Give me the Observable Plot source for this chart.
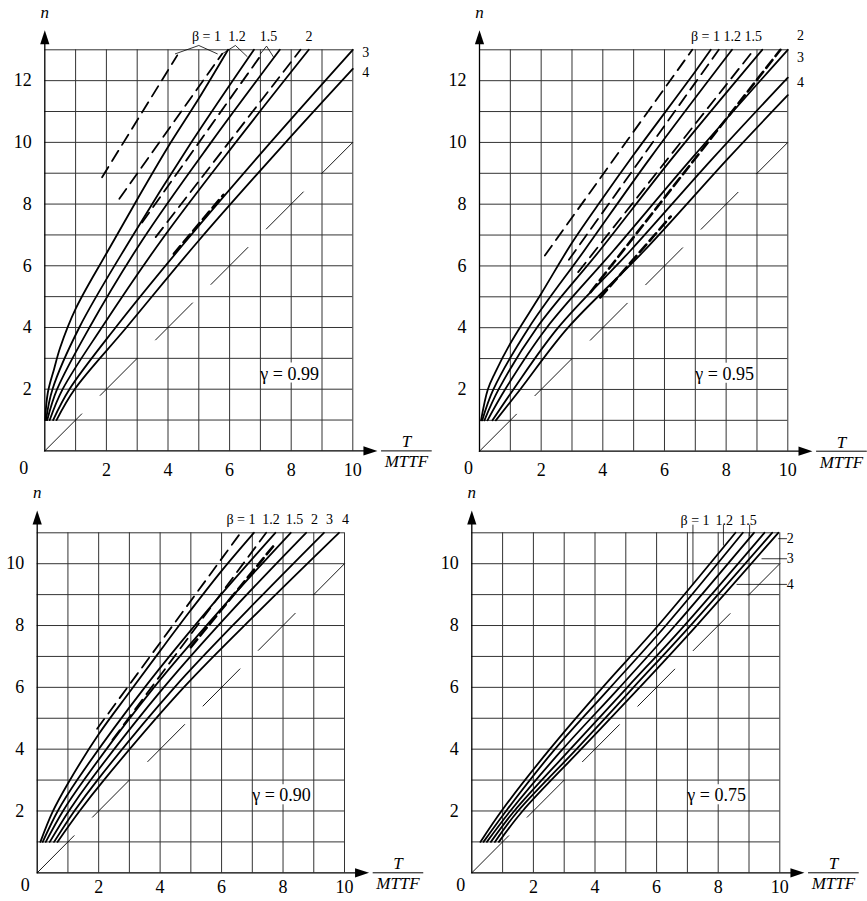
<!DOCTYPE html>
<html><head><meta charset="utf-8">
<script src="https://cdn.jsdelivr.net/npm/d3@7"></script>
<script src="https://cdn.jsdelivr.net/npm/@observablehq/plot@0.6"></script>
<style>
html,body{margin:0;padding:0;background:#fff}
#root{position:relative;width:867px;height:901px;overflow:hidden;background:#fff}
.panel{position:absolute}
.panel svg{overflow:visible;background:none}
</style></head><body><div id="root"></div>
<script>
// ---------- shared ----------
const xTickValues = [2, 4, 6, 8, 10];
const yTicksTop = [2, 4, 6, 8, 10, 12];
const yTicksBottom = [2, 4, 6, 8, 10];
const gridX = [1, 2, 3, 4, 5, 6, 7, 8, 9, 10];
const gridNTop = [1, 2, 3, 4, 5, 6, 7, 8, 9, 10, 11, 12, 13];
const gridNBottom = [1, 2, 3, 4, 5, 6, 7, 8, 9, 10, 11];
const diagonal = [[0, 0], [10, 10]];
const gammaValues = ["0.99", "0.95", "0.90", "0.75"];

// ---------- γ = 0.99 : [T/MTTF, n] ----------
const s99_b1  = [[0.01,1],[0.1,1.9],[0.3,2.65],[0.5,3.35],[1,4.6],[2,6.4],[3,8.15],[4,9.85],[5,11.42],[5.95,13]];
const s99_b12 = [[0.04,1],[0.25,2],[1.12,4],[2.76,6.82],[4.76,10],[6.79,13]];
const s99_b15 = [[0.08,1],[0.4,2],[1.45,4],[3.16,6.82],[5.4,10],[7.63,13]];
const s99_b2  = [[0.16,1],[0.58,2],[1.85,4],[3.78,6.82],[6.2,10],[8.57,13]];
const s99_b3  = [[0.27,1],[0.8,2],[2.3,4],[4.6,6.82],[7.33,10],[10,13]];
const s99_b4  = [[0.38,1],[0.97,2],[2.65,4],[5.0,6.82],[7.82,10],[10,12.38]];
const d99_1 = [[1.86,8.87],[4.3,12.82]];
const d99_2 = [[2.42,8.17],[5.76,12.87]];
const d99_3 = [[3.16,7.4],[7.0,12.8]];
const d99_4 = [[3.6,6.93],[8.3,13.0]];
const t99_5 = [[4.19,6.39],[5.8,8.3]];
const l99_a = [[4.24,12.87],[5.0,13.14],[5.6,12.87]];
const l99_b = [[5.76,12.87],[6.19,13.14],[6.57,12.78]];
const l99_c = [[7.0,12.87],[7.2,13.12],[7.43,12.76]];
const lab99 = [[5.25,13.43,"β = 1"],[6.24,13.43,"1.2"],[7.26,13.43,"1.5"],[8.58,13.43,"2"],[10.42,12.91,"3"],[10.42,12.26,"4"]];

// ---------- γ = 0.95 ----------
const s95_b1  = [[0.05,1],[0.27,2],[0.5,2.53],[1,3.49],[2,5.1],[3,6.75],[4,8.2],[5,9.6],[6,10.95],[7,12.3],[7.5,13]];
const s95_b12 = [[0.09,1],[0.45,2],[1.6,4],[3.4,6.5],[5.54,9.5],[8.19,13]];
const s95_b15 = [[0.16,1],[0.62,2],[1.86,4],[3.9,6.5],[6.26,9.5],[9.17,13]];
const s95_b2  = [[0.26,1],[0.83,2],[2.18,4],[4.35,6.5],[6.9,9.5],[10,13]];
const s95_b3  = [[0.42,1],[1.1,2],[2.55,4],[4.9,6.5],[7.58,9.5],[10,12.1]];
const s95_b4  = [[0.53,1],[1.32,2],[2.87,4],[5.35,6.5],[8.08,9.5],[10,11.53]];
const d95_1 = [[2.12,6.34],[6.9,13]];
const d95_2 = [[2.9,6.2],[7.76,13]];
const d95_3 = [[3.2,5.8],[8.9,13]];
const t95_4 = [[3.6,5.15],[9.76,13]];
const t95_5 = [[3.92,4.98],[6.2,7.6]];
const lab95 = [[8.01,13.43,"β = 1 1.2 1.5"],[10.41,13.47,"2"],[10.41,12.76,"3"],[10.41,11.95,"4"]];

// ---------- γ = 0.90 ----------
const s90_b1  = [[0.105,1],[0.5,1.97],[1,2.89],[2,4.48],[3,5.84],[4,7.18],[5,8.5],[6,9.77],[7.05,11]];
const s90_b12 = [[0.18,1],[0.67,2],[1.3,3],[3.5,6],[5.55,8.5],[7.75,11]];
const s90_b15 = [[0.28,1],[0.84,2],[1.52,3],[3.8,6],[5.95,8.5],[8.25,11]];
const s90_b2  = [[0.41,1],[1.03,2],[1.74,3],[4.12,6],[6.35,8.5],[8.75,11]];
const s90_b3  = [[0.55,1],[1.21,2],[1.96,3],[4.47,6],[6.85,8.5],[9.33,11]];
const s90_b4  = [[0.66,1],[1.38,2],[2.17,3],[4.77,6],[7.25,8.5],[9.82,11]];
const d90_1 = [[1.95,4.66],[6.62,11]];
const d90_2 = [[2.45,4.3],[7.45,11]];
const t90_3 = [[5.0,7.3],[7.75,10.65]];
const lab90 = [[6.63,11.42,"β = 1"],[7.61,11.42,"1.2"],[8.37,11.42,"1.5"],[9.02,11.42,"2"],[9.51,11.42,"3"],[10.03,11.42,"4"]];

// ---------- γ = 0.75 ----------
const s75_b1  = [[0.28,1],[1,2.05],[2.5,3.96],[4.25,6],[6.05,8],[8.56,11]];
const s75_b12 = [[0.38,1],[1.15,2.05],[2.7,4],[4.5,6],[6.3,8],[8.8,11]];
const s75_b15 = [[0.49,1],[1.25,2],[2.95,4],[4.8,6],[6.6,8],[9.16,11]];
const s75_b2  = [[0.62,1],[1.38,2],[3.2,4],[5.05,6],[6.9,8],[9.5,11]];
const s75_b3  = [[0.75,1],[1.5,2],[3.4,4],[5.25,6],[7.1,8],[9.75,11]];
const s75_b4  = [[0.88,1],[1.65,2],[3.55,4],[5.45,6],[7.3,8],[9.95,11]];
const l75_a = [[7.18,11.25],[7.18,9.35]];
const l75_b = [[8.17,11.25],[8.17,10.6]];
const l75_c = [[9.02,11.25],[9.02,10.9]];
const l75_d = [[9.96,10.81],[10.22,10.81]];
const l75_e = [[9.42,10.16],[10.22,10.16]];
const l75_f = [[8.61,9.33],[10.22,9.33]];
const lab75 = [[7.25,11.4,"β = 1"],[8.2,11.4,"1.2"],[8.97,11.4,"1.5"],[10.34,10.81,"2"],[10.34,10.16,"3"],[10.34,9.32,"4"]];

// ---------- drawing ----------
const serif = '"Liberation Serif", "Times New Roman", serif';
const arrowHead = {draw(c, size){const k = Math.sqrt(size)/10; c.moveTo(0,0); c.lineTo(4.6*k,14*k); c.lineTo(-4.6*k,14*k); c.closePath();}};
const X = d => d[0], Y = d => d[1];

function panel(cfg){
  const m = [];
  m.push(Plot.ruleX(gridX, {y1: 0, y2: cfg.nMax, stroke: "#333", strokeWidth: 1}));
  m.push(Plot.ruleY(cfg.gridN, {x1: 0, x2: 10, stroke: "#333", strokeWidth: 1}));
  m.push(Plot.rect([[7.05, 8.85, 2.2, 2.85]], {x1: d=>d[0], x2: d=>d[1], y1: d=>d[2], y2: d=>d[3], fill: "white"}));
  m.push(Plot.line(diagonal, {x: X, y: Y, stroke: "black", strokeWidth: 0.9, strokeDasharray: "52.3,26.1"}));
  for (const s of cfg.solid) m.push(Plot.line(s, {x: X, y: Y, curve: "catmull-rom", stroke: "black", strokeWidth: 1.8}));
  for (const s of cfg.dashed) m.push(Plot.line(s, {x: X, y: Y, curve: "catmull-rom", stroke: "black", strokeWidth: 1.8, strokeDasharray: "12,7"}));
  for (const s of cfg.thick) m.push(Plot.line(s, {x: X, y: Y, stroke: "black", strokeWidth: 2.6, strokeDasharray: "10,5"}));
  for (const s of cfg.leaders) m.push(Plot.line(s, {x: X, y: Y, stroke: "black", strokeWidth: 0.8}));
  // axes
  m.push(Plot.line([[0,0],[0,cfg.yArrow - 0.3]], {x: X, y: Y, stroke: "black", strokeWidth: 1.3}));
  m.push(Plot.line([[0,0],[10.4,0]], {x: X, y: Y, stroke: "black", strokeWidth: 1.3}));
  m.push(Plot.dot([[0, cfg.yArrow]], {x: X, y: Y, symbol: arrowHead, r: 5.64, fill: "black", stroke: "none"}));
  m.push(Plot.dot([[10.8, 0]], {x: X, y: Y, symbol: arrowHead, r: 5.64, fill: "black", stroke: "none", rotate: 90}));
  // tick labels
  m.push(Plot.text(xTickValues, {x: d=>d, y: 0, text: d=>String(d), dy: cfg.tickDy, fontSize: 18, fontFamily: serif}));
  m.push(Plot.text(["0"], {x: 0, y: 0, text: d=>d, dx: cfg.zeroDx, dy: cfg.tickDy - 2, fontSize: 18, fontFamily: serif}));
  m.push(Plot.text(cfg.yTicks, {x: 0, y: d=>d, text: d=>String(d), dx: -13, textAnchor: "end", fontSize: 18, fontFamily: serif}));
  // axis titles
  m.push(Plot.text(["n"], {x: 0, y: cfg.yArrow, text: d=>d, dy: -18, fontSize: 17, fontStyle: "italic", fontFamily: serif}));
  m.push(Plot.text(["T"], {x: 11.74, y: 0, text: d=>d, dy: -9, fontSize: 17, fontStyle: "italic", fontFamily: serif}));
  m.push(Plot.line([[10.93,0],[12.55,0]], {x: X, y: Y, stroke: "black", strokeWidth: 1}));
  m.push(Plot.text(["MTTF"], {x: 11.74, y: 0, text: d=>d, dy: 11, fontSize: 17, fontStyle: "italic", fontFamily: serif}));
  // labels
  m.push(Plot.text(cfg.labels, {x: X, y: Y, text: d=>d[2], fontSize: 14, fontFamily: serif}));
  m.push(Plot.text([cfg.gamma], {x: 7.95, y: 2.5, text: d=>"γ = " + d, fontSize: 18, fontFamily: serif}));
  return Plot.plot({
    width: cfg.w, height: cfg.h,
    x: {domain: [0, 10], range: cfg.xRange, axis: null},
    y: {domain: [0, cfg.nMax], range: cfg.yRange, axis: null},
    style: {fontFamily: serif, background: "none", overflow: "visible"},
    marks: m
  });
}

const root = document.getElementById("root");
function place(el, left, top){
  const d = document.createElement("div");
  d.className = "panel"; d.style.left = left + "px"; d.style.top = top + "px";
  d.appendChild(el); root.appendChild(d);
}

place(panel({w: 436, h: 486, xRange: [44.3, 352.3], yRange: [450.4, 49.3], nMax: 13, gridN: gridNTop, yTicks: yTicksTop,
  solid: [s99_b1, s99_b12, s99_b15, s99_b2, s99_b3, s99_b4], dashed: [d99_1, d99_2, d99_3, d99_4], thick: [t99_5],
  leaders: [l99_a, l99_b, l99_c], labels: lab99, gamma: gammaValues[0], yArrow: 13.63, zeroDx: -21, tickDy: 19}), 0, 0);

place(panel({w: 437, h: 486, xRange: [49, 357.3], yRange: [450.7, 49.3], nMax: 13, gridN: gridNTop, yTicks: yTicksTop,
  solid: [s95_b1, s95_b12, s95_b15, s95_b2, s95_b3, s95_b4], dashed: [d95_1, d95_2, d95_3], thick: [t95_4, t95_5],
  leaders: [], labels: lab95, gamma: gammaValues[1], yArrow: 13.63, zeroDx: -11, tickDy: 19}), 430, 0);

place(panel({w: 436, h: 415, xRange: [36.7, 344], yRange: [386.3, 46.3], nMax: 11, gridN: gridNBottom, yTicks: yTicksBottom,
  solid: [s90_b1, s90_b12, s90_b15, s90_b2, s90_b3, s90_b4], dashed: [d90_1, d90_2], thick: [t90_3],
  leaders: [], labels: lab90, gamma: gammaValues[2], yArrow: 11.72, zeroDx: -12, tickDy: 14}), 0, 486);

place(panel({w: 437, h: 415, xRange: [41.3, 349.3], yRange: [386.3, 46.3], nMax: 11, gridN: gridNBottom, yTicks: yTicksBottom,
  solid: [s75_b1, s75_b12, s75_b15, s75_b2, s75_b3, s75_b4], dashed: [], thick: [],
  leaders: [l75_a, l75_b, l75_c, l75_d, l75_e, l75_f], labels: lab75, gamma: gammaValues[3], yArrow: 11.72, zeroDx: -11, tickDy: 14}), 430, 486);
</script></body></html>
